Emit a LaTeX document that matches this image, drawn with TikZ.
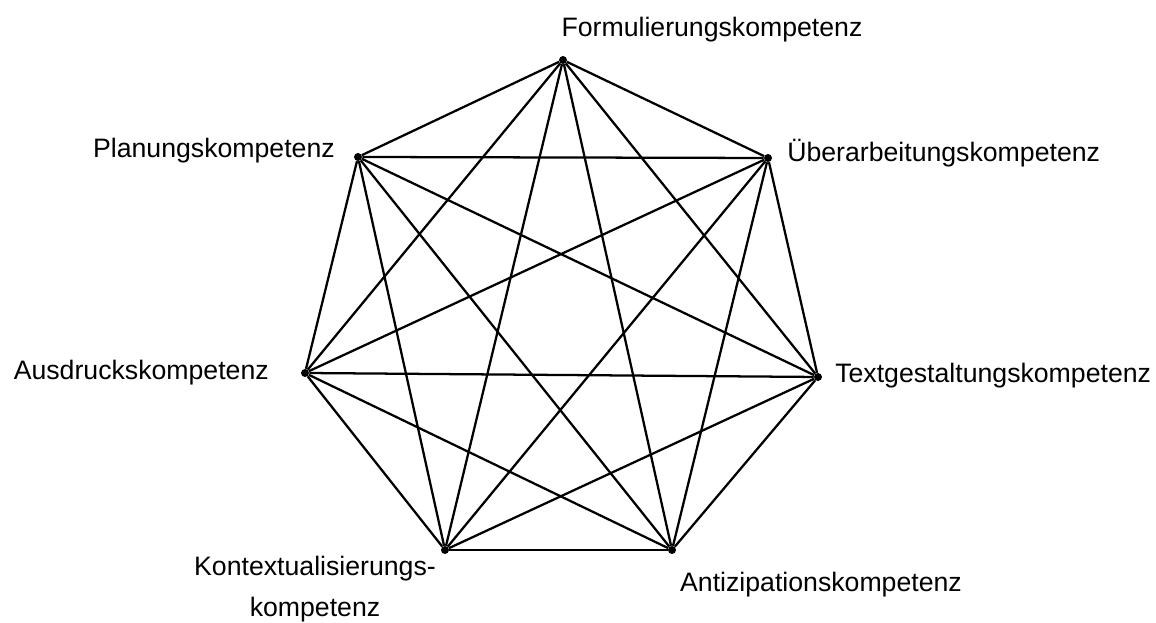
\documentclass[tikz,border=0pt]{standalone}
\usepackage{fontspec}
\setmainfont{Liberation Sans}
\usepackage{tikz}
\usetikzlibrary{positioning}
\tikzset{
  vtx/.style={circle, fill=black, inner sep=0pt, minimum size=6},
  edge/.style={draw=black, line width=1.7pt, line join=round},
  lbl/.style={inner sep=0pt, font=\fontsize{20}{30.75}\selectfont, align=center}
}
\begin{document}
\begin{tikzpicture}[x=0.75pt, y=0.75pt]
  \useasboundingbox[fill=white] (0,0) rectangle (1156,623);
  % corners of the heptagon
  \node[vtx] (form) at (563,563) {};
  \node[vtx] (ueber) at (768,465) {};
  \node[vtx] (text) at (818,246) {};
  \node[vtx] (anti) at (672,73) {};
  \node[vtx] (kont) at (445,73) {};
  \node[vtx] (ausd) at (305,250) {};
  \node[vtx] (plan) at (358,466) {};

  % every corner joined to every other
  \foreach \a/\b in {form/ueber, form/text, form/anti, form/kont, form/ausd, form/plan,
                     ueber/text, ueber/anti, ueber/kont, ueber/ausd, ueber/plan,
                     text/anti, text/kont, text/ausd, text/plan,
                     anti/kont, anti/ausd, anti/plan,
                     kont/ausd, kont/plan, ausd/plan}
    \draw[edge] (\a) -- (\b);

  % labels
  \node[lbl, anchor=base] (lform) at (712,586) {Formulierungskompetenz};
  \node[lbl, anchor=base west] (lueber) at (787,461) {Überarbeitungskompetenz};
  \node[lbl, anchor=base east] (lplan) at (335,465) {Planungskompetenz};
  \node[lbl, anchor=base east] (lausd) at (269,243) {Ausdruckskompetenz};
  \node[lbl, anchor=base west] (ltext) at (835,240) {Textgestaltungskompetenz};
  \node[lbl, anchor=base] (lanti) at (821,31) {Antizipationskompetenz};
  \node[lbl, anchor=north] (lkont) at (315,67) {Kontextualisierungs-\\kompetenz};
\end{tikzpicture}
\end{document}
